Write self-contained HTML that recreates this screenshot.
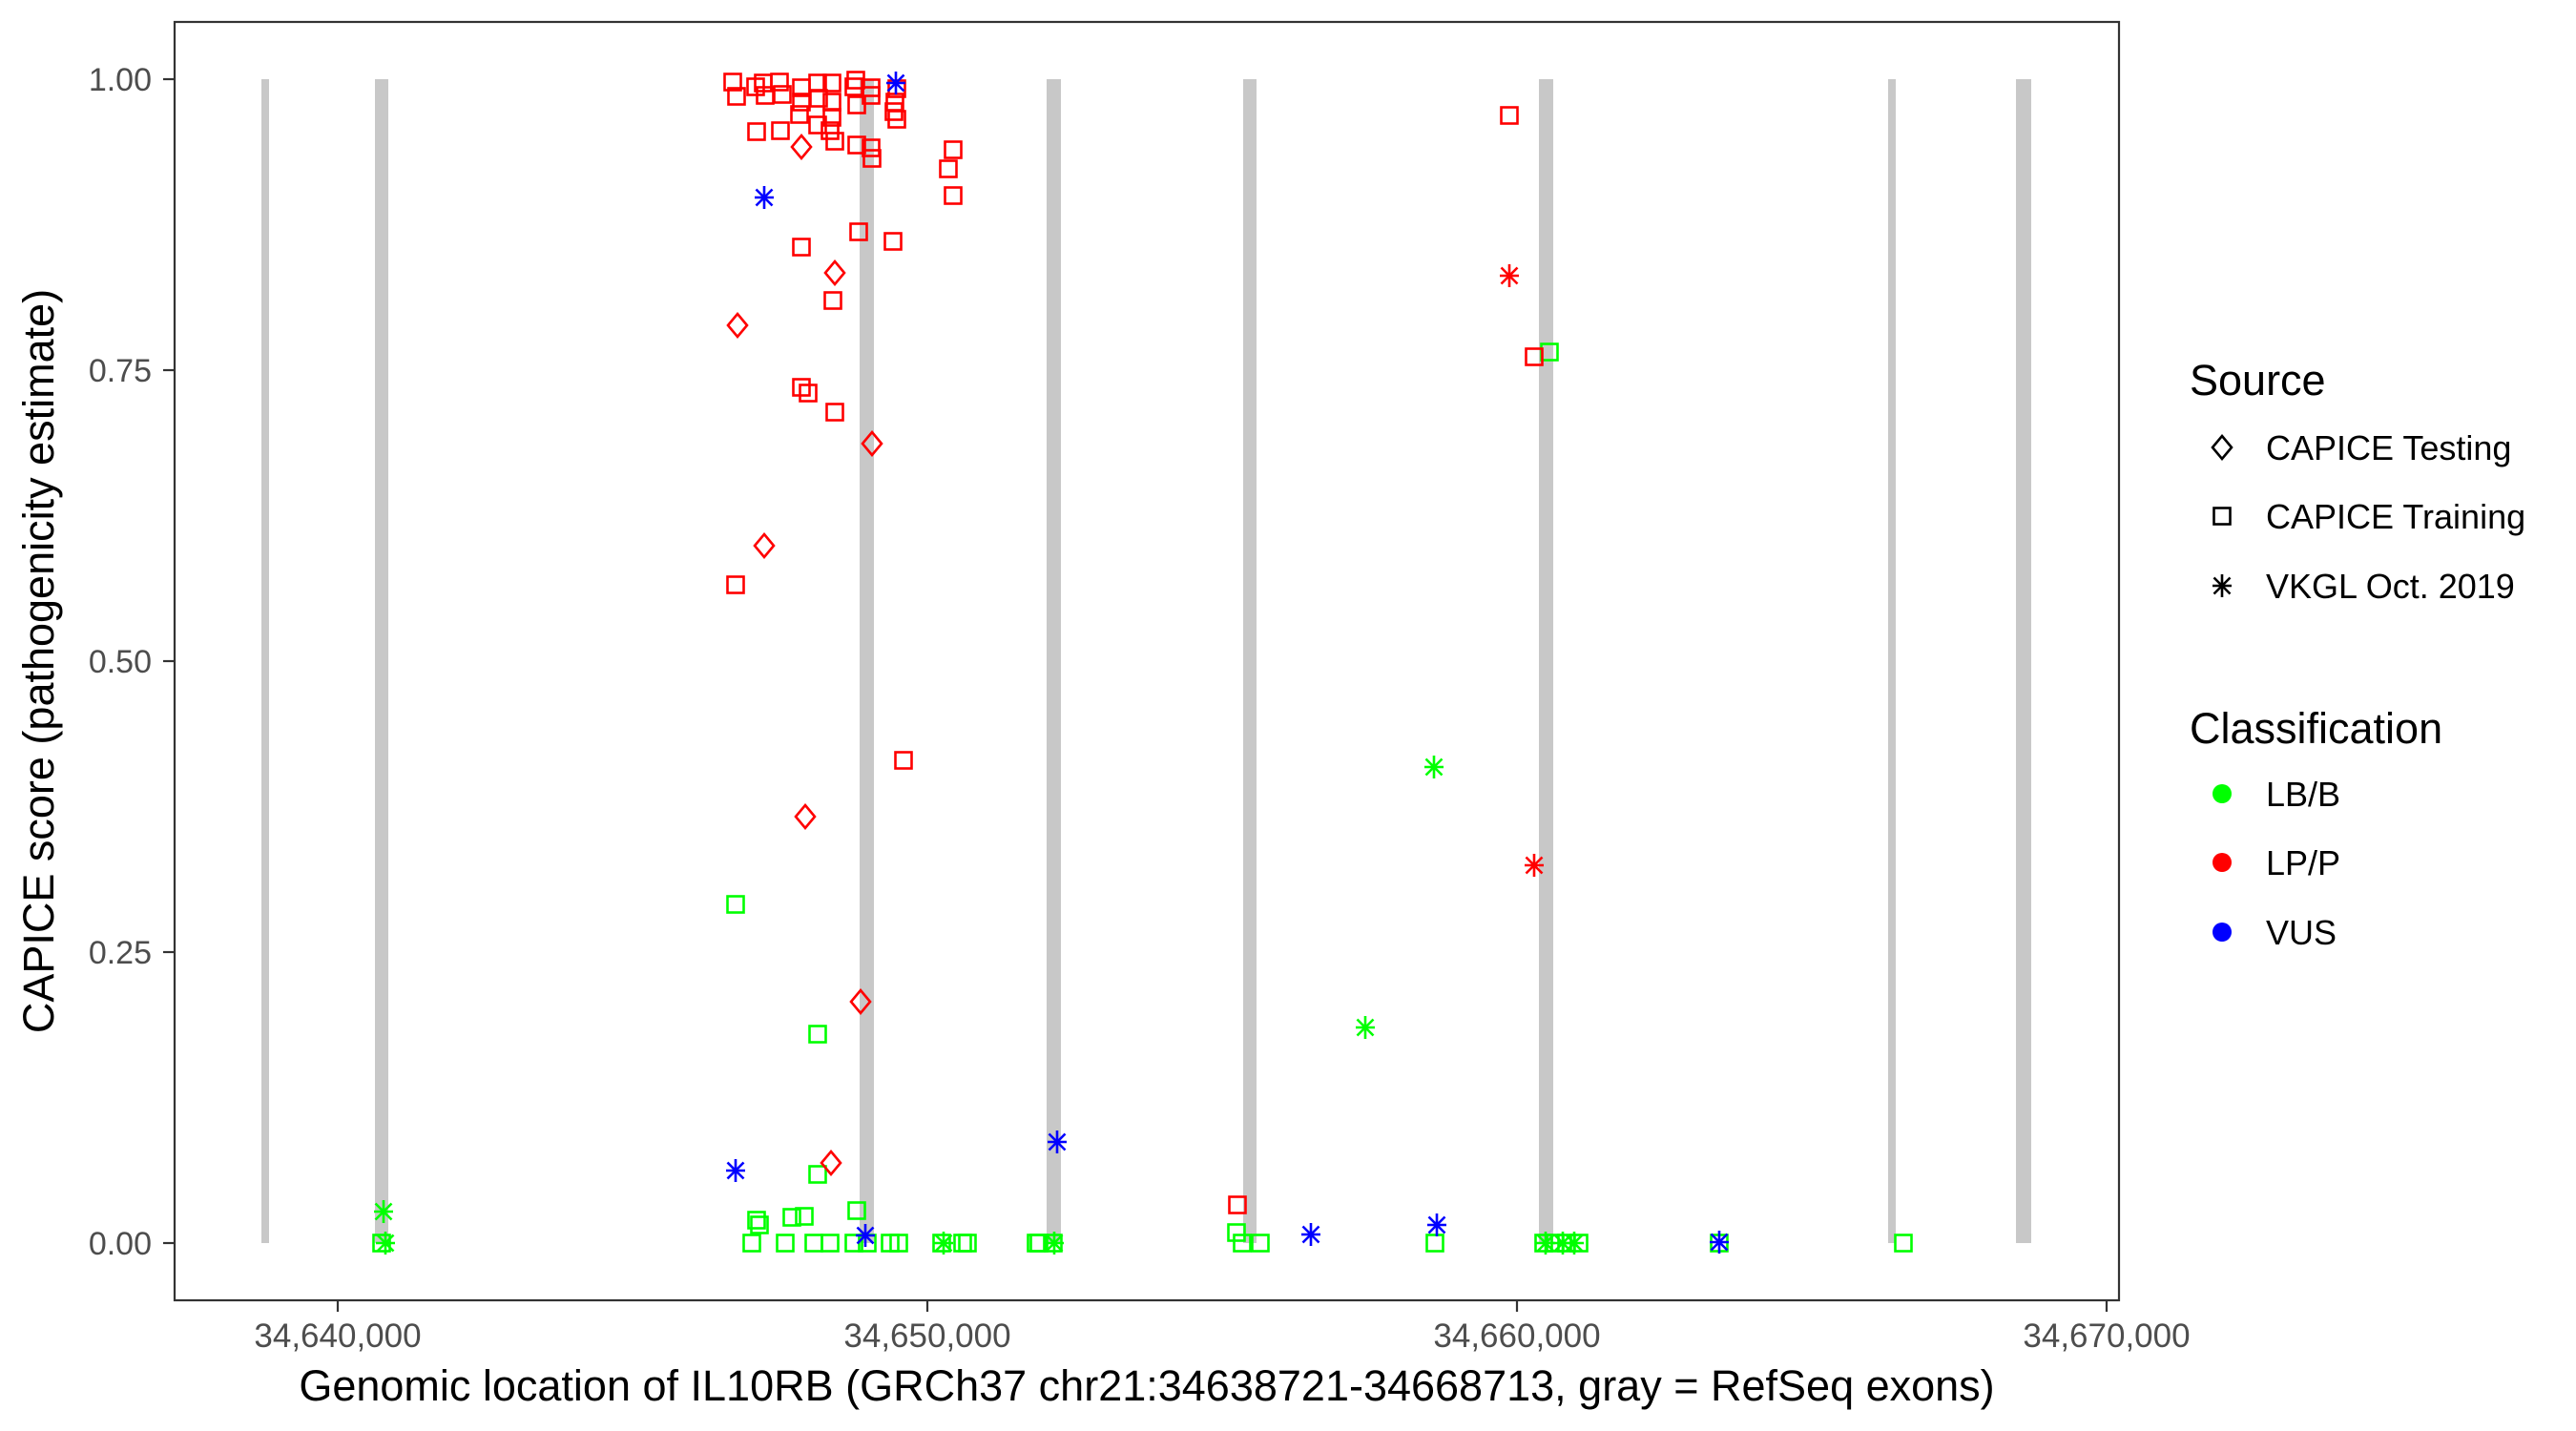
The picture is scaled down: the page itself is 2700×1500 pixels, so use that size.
<!DOCTYPE html>
<html><head><meta charset="utf-8"><style>
html,body{margin:0;padding:0;background:#fff;}
svg{display:block;font-family:"Liberation Sans",Arial,sans-serif;}
</style></head><body>
<svg width="2700" height="1500" viewBox="0 0 2700 1500" xmlns="http://www.w3.org/2000/svg">
<defs>
<rect id="s" x="-8.5" y="-8.5" width="17" height="17" fill="none" stroke-width="2.6"/>
<path id="d" d="M0,-12 L10,0 L0,12 L-10,0 Z" fill="none" stroke-width="2.6"/>
<path id="a" d="M0,-12V12M-10,0H10M-8.5,-8.5L8.5,8.5M-8.5,8.5L8.5,-8.5" fill="none" stroke-width="2.6"/>
</defs>
<rect width="2700" height="1500" fill="#fff"/>
<g fill="#c8c8c8">
<rect x="274" y="83" width="8" height="1220"/>
<rect x="393" y="83" width="14" height="1220"/>
<rect x="901" y="83" width="15" height="1220"/>
<rect x="1097" y="83" width="15" height="1220"/>
<rect x="1303" y="83" width="14" height="1220"/>
<rect x="1613" y="83" width="15" height="1220"/>
<rect x="1979" y="83" width="8" height="1220"/>
<rect x="2113" y="83" width="16" height="1220"/>
</g>
<g stroke="#00ff00">
<use href="#s" x="771" y="948"/><use href="#s" x="857" y="1084"/><use href="#s" x="857" y="1231"/>
<use href="#s" x="898" y="1269"/><use href="#s" x="793" y="1279"/><use href="#s" x="796" y="1284"/>
<use href="#s" x="830" y="1276"/><use href="#s" x="843" y="1275"/><use href="#s" x="1624" y="369"/>
<use href="#s" x="400" y="1303"/><use href="#s" x="788" y="1303"/><use href="#s" x="823" y="1303"/>
<use href="#s" x="853" y="1303"/><use href="#s" x="870" y="1303"/><use href="#s" x="895" y="1303"/>
<use href="#s" x="909" y="1303"/><use href="#s" x="933" y="1303"/><use href="#s" x="942" y="1303"/>
<use href="#s" x="987" y="1303"/><use href="#s" x="1009" y="1303"/><use href="#s" x="1014" y="1303"/>
<use href="#s" x="1086" y="1303"/><use href="#s" x="1089" y="1303"/><use href="#s" x="1104" y="1303"/>
<use href="#s" x="1296" y="1292"/><use href="#s" x="1302" y="1303"/><use href="#s" x="1321" y="1303"/>
<use href="#s" x="1504" y="1303"/><use href="#s" x="1618" y="1303"/><use href="#s" x="1630" y="1303"/>
<use href="#s" x="1642" y="1303"/><use href="#s" x="1655" y="1303"/><use href="#s" x="1802" y="1303"/>
<use href="#s" x="1995" y="1303"/>
<use href="#a" x="402" y="1270"/><use href="#a" x="404" y="1303"/><use href="#a" x="1503" y="804"/>
<use href="#a" x="1431" y="1077"/><use href="#a" x="989" y="1303"/><use href="#a" x="1105" y="1303"/>
<use href="#a" x="1620" y="1303"/><use href="#a" x="1638" y="1303"/><use href="#a" x="1650" y="1303"/>
</g>
<g stroke="#ff0000">
<use href="#s" x="768" y="86"/><use href="#s" x="772" y="101"/><use href="#s" x="792" y="91"/>
<use href="#s" x="800" y="87"/><use href="#s" x="802" y="100"/><use href="#s" x="817" y="86"/>
<use href="#s" x="820" y="99"/><use href="#s" x="840" y="92"/><use href="#s" x="838" y="120"/>
<use href="#s" x="840" y="107"/><use href="#s" x="857" y="87"/><use href="#s" x="858" y="103"/>
<use href="#s" x="857" y="131"/><use href="#s" x="872" y="87"/><use href="#s" x="872" y="107"/>
<use href="#s" x="872" y="123"/><use href="#s" x="870" y="137"/><use href="#s" x="875" y="148"/>
<use href="#s" x="897" y="84"/><use href="#s" x="895" y="91"/><use href="#s" x="898" y="110"/>
<use href="#s" x="913" y="92"/><use href="#s" x="913" y="100"/><use href="#s" x="940" y="93"/>
<use href="#s" x="938" y="107"/><use href="#s" x="937" y="117"/><use href="#s" x="940" y="125"/>
<use href="#s" x="793" y="138"/><use href="#s" x="818" y="137"/><use href="#s" x="898" y="152"/>
<use href="#s" x="913" y="155"/><use href="#s" x="914" y="166"/><use href="#s" x="999" y="157"/>
<use href="#s" x="994" y="177"/><use href="#s" x="999" y="205"/>
<use href="#s" x="840" y="259"/><use href="#s" x="900" y="243"/><use href="#s" x="936" y="253"/>
<use href="#s" x="873" y="315"/><use href="#s" x="840" y="406"/><use href="#s" x="847" y="412"/>
<use href="#s" x="875" y="432"/><use href="#s" x="771" y="613"/><use href="#s" x="947" y="797"/>
<use href="#s" x="1582" y="121"/><use href="#s" x="1608" y="374"/><use href="#s" x="1297" y="1263"/>
<use href="#d" x="840" y="154"/><use href="#d" x="875" y="286"/><use href="#d" x="773" y="341"/>
<use href="#d" x="914" y="465"/><use href="#d" x="801" y="572"/><use href="#d" x="844" y="856"/>
<use href="#d" x="902" y="1050"/><use href="#d" x="871" y="1219"/>
<use href="#a" x="1582" y="289"/><use href="#a" x="1608" y="907"/>
</g>
<g stroke="#0000ff">
<use href="#a" x="939" y="87"/><use href="#a" x="801" y="207"/><use href="#a" x="771" y="1227"/>
<use href="#a" x="1108" y="1197"/><use href="#a" x="907" y="1295"/><use href="#a" x="1374" y="1294"/>
<use href="#a" x="1506" y="1284"/><use href="#a" x="1802" y="1302"/>
</g>
<rect x="183" y="23" width="2038" height="1340" fill="none" stroke="#333" stroke-width="2.2"/>
<g stroke="#333" stroke-width="2.2">
<line x1="171" y1="83" x2="183" y2="83"/><line x1="171" y1="388" x2="183" y2="388"/>
<line x1="171" y1="693" x2="183" y2="693"/><line x1="171" y1="998" x2="183" y2="998"/>
<line x1="171" y1="1303" x2="183" y2="1303"/>
<line x1="354" y1="1363" x2="354" y2="1375"/><line x1="972" y1="1363" x2="972" y2="1375"/>
<line x1="1590" y1="1363" x2="1590" y2="1375"/><line x1="2208" y1="1363" x2="2208" y2="1375"/>
</g>
<g fill="#4d4d4d" font-size="34" text-anchor="end">
<text x="159" y="95">1.00</text><text x="159" y="400">0.75</text><text x="159" y="705">0.50</text>
<text x="159" y="1010">0.25</text><text x="159" y="1315">0.00</text>
</g>
<g fill="#4d4d4d" font-size="35" text-anchor="middle">
<text x="354" y="1412">34,640,000</text><text x="972" y="1412">34,650,000</text>
<text x="1590" y="1412">34,660,000</text><text x="2208" y="1412">34,670,000</text>
</g>
<text x="1202" y="1468" font-size="45" text-anchor="middle">Genomic location of IL10RB (GRCh37 chr21:34638721-34668713, gray = RefSeq exons)</text>
<text transform="translate(56,693) rotate(-90)" font-size="45" text-anchor="middle">CAPICE score (pathogenicity estimate)</text>
<text x="2295" y="414" font-size="45">Source</text>
<g stroke="#000">
<use href="#d" x="2329" y="469"/>
<use href="#s" x="2329" y="541"/>
<use href="#a" x="2329" y="614"/>
</g>
<g font-size="36">
<text x="2375" y="482">CAPICE Testing</text>
<text x="2375" y="554">CAPICE Training</text>
<text x="2375" y="627">VKGL Oct. 2019</text>
</g>
<text x="2295" y="779" font-size="45">Classification</text>
<circle cx="2329" cy="832" r="10" fill="#00ff00"/>
<circle cx="2329" cy="904" r="10" fill="#ff0000"/>
<circle cx="2329" cy="977" r="10" fill="#0000ff"/>
<g font-size="36">
<text x="2375" y="845">LB/B</text>
<text x="2375" y="917">LP/P</text>
<text x="2375" y="990">VUS</text>
</g>
</svg>
</body></html>
